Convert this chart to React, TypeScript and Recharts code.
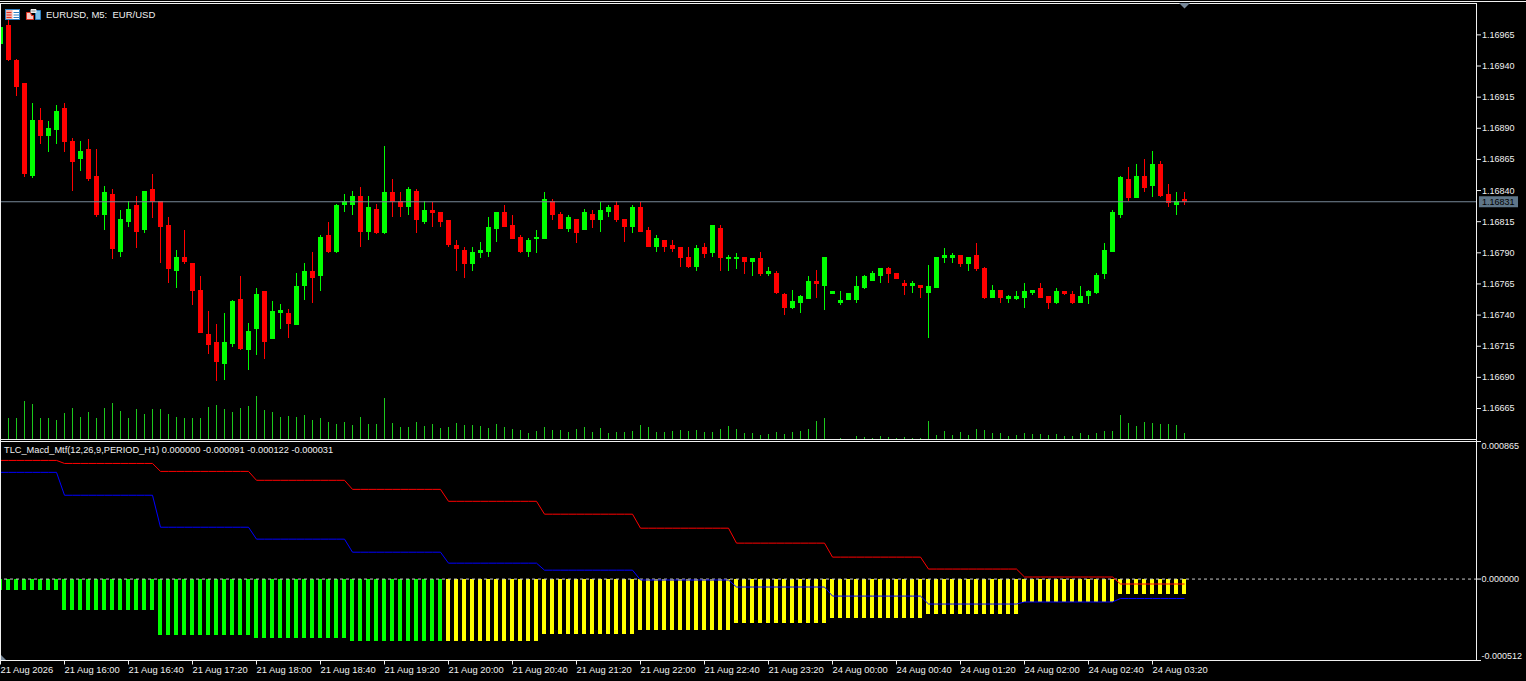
import { Bar, Cell, ComposedChart, Line, ReferenceLine, XAxis, YAxis } from 'recharts';

// M5 candles, prices given as points above 1.16000
const opens = [
  958, 973, 945, 926, 852, 897, 884, 889, 906, 880, 865, 873, 852, 820, 837, 791, 815, 828, 808, 841,
  832, 812, 775, 787, 782, 760, 725, 718, 701, 717, 753, 712, 729, 759, 721, 742, 742, 732, 763, 775,
  771, 804, 791, 828, 828, 836, 807, 825, 806, 839, 832, 827, 840, 815, 824, 823, 816, 796, 792, 781,
  790, 791, 809, 823, 812, 803, 791, 801, 801, 832, 821, 809, 817, 808, 821, 816, 823, 828, 817, 811,
  827, 808, 795, 800, 796, 795, 787, 779, 795, 790, 810, 785, 785, 787, 783, 786, 773, 774, 757, 746,
  750, 753, 767, 763, 757, 750, 752, 752, 762, 767, 771, 778, 774, 766, 763, 764, 758, 762, 786, 786,
  788, 781, 788, 778, 754, 760, 753, 753, 754, 758, 762, 755, 750, 759, 757, 750, 755, 758, 773, 791,
  820, 849, 834, 852, 844, 861, 837, 828, 833,
];
const highs = [
  974, 977, 946, 926, 910, 906, 896, 909, 910, 882, 880, 881, 873, 844, 841, 824, 832, 836, 840, 853,
  832, 819, 792, 808, 782, 771, 743, 733, 742, 752, 771, 734, 762, 759, 751, 749, 745, 774, 782, 791,
  804, 815, 829, 837, 840, 843, 836, 829, 876, 849, 839, 843, 841, 832, 831, 823, 816, 800, 795, 795,
  799, 819, 823, 828, 820, 804, 802, 808, 839, 833, 823, 820, 817, 825, 824, 831, 828, 832, 817, 828,
  831, 811, 804, 800, 800, 795, 795, 796, 798, 812, 812, 788, 790, 787, 786, 791, 779, 775, 758, 760,
  756, 771, 776, 787, 759, 759, 758, 771, 772, 775, 778, 779, 774, 768, 767, 764, 780, 787, 794, 790,
  788, 787, 798, 779, 764, 760, 756, 759, 766, 760, 766, 755, 762, 759, 759, 763, 760, 774, 798, 824,
  852, 859, 861, 865, 872, 864, 845, 839, 839,
];
const lows = [
  958, 944, 916, 851, 850, 877, 871, 877, 871, 840, 856, 848, 819, 808, 785, 787, 811, 794, 806, 818,
  782, 766, 762, 781, 748, 726, 709, 687, 688, 714, 712, 696, 708, 705, 721, 729, 722, 732, 752, 750,
  759, 790, 790, 823, 820, 795, 800, 805, 805, 819, 819, 820, 806, 813, 811, 811, 795, 775, 770, 775,
  786, 787, 799, 811, 801, 790, 787, 790, 801, 816, 809, 807, 798, 808, 810, 807, 819, 815, 799, 806,
  807, 795, 791, 791, 791, 779, 778, 775, 786, 787, 775, 775, 777, 773, 771, 771, 771, 757, 740, 745,
  742, 753, 754, 744, 757, 748, 752, 750, 761, 767, 766, 766, 769, 756, 758, 754, 722, 762, 782, 782,
  779, 775, 775, 753, 754, 750, 750, 752, 746, 756, 754, 745, 749, 756, 749, 750, 749, 757, 769, 791,
  818, 832, 834, 839, 835, 835, 827, 820, 828,
];
const closes = [
  971, 945, 923, 853, 897, 884, 890, 904, 879, 863, 872, 849, 820, 839, 793, 817, 825, 807, 840, 831,
  811, 777, 787, 783, 759, 726, 716, 702, 718, 751, 713, 727, 757, 718, 743, 744, 733, 763, 775, 770,
  803, 791, 828, 832, 836, 807, 827, 806, 839, 831, 827, 841, 816, 824, 822, 815, 796, 793, 781, 791,
  792, 811, 823, 811, 801, 791, 800, 803, 833, 820, 809, 819, 806, 823, 816, 824, 827, 816, 811, 827,
  807, 795, 802, 795, 793, 786, 779, 794, 789, 812, 786, 787, 787, 783, 786, 773, 775, 758, 746, 751,
  755, 767, 765, 787, 759, 752, 758, 763, 771, 774, 778, 773, 769, 763, 766, 762, 763, 787, 788, 788,
  781, 787, 777, 754, 760, 754, 755, 755, 759, 760, 754, 750, 759, 757, 750, 755, 759, 772, 792, 823,
  851, 834, 852, 842, 861, 836, 830, 832, 831,
];

const volumes = [
  105, 105, 105, 190, 175, 105, 105, 95, 130, 155, 110, 135, 105, 155, 180, 140, 105, 150, 125, 150,
  150, 125, 110, 105, 105, 105, 160, 170, 150, 135, 155, 165, 215, 145, 135, 110, 115, 110, 120, 95,
  105, 85, 75, 85, 70, 110, 75, 75, 205, 80, 60, 60, 85, 65, 75, 55, 60, 80, 70, 70,
  65, 55, 75, 60, 50, 45, 30, 40, 60, 45, 45, 35, 50, 60, 35, 55, 30, 35, 35, 40,
  70, 60, 35, 35, 40, 45, 40, 45, 35, 35, 50, 65, 50, 30, 30, 20, 25, 35, 25, 35,
  40, 50, 90, 105, 0, 5, 0, 15, 10, 5, 15, 10, 5, 10, 5, 5, 90, 20, 40, 20,
  35, 20, 50, 45, 30, 30, 15, 20, 30, 25, 25, 20, 25, 15, 15, 30, 20, 30, 40, 40,
  120, 80, 65, 85, 80, 75, 75, 70, 30,
];

const priceTicks = [
  1.16965, 1.1694, 1.16915, 1.1689, 1.16865, 1.1684, 1.16815, 1.1679, 1.16765, 1.1674, 1.16715, 1.1669, 1.16665,
];
const lastPrice = 1.16831;

// H1 indicator values, millionths. Each one holds for the bars listed in hourBars.
const hourBars = [8, 12, 12, 12, 12, 12, 12, 12, 12, 12, 12, 12, 9];
const hourHist = [-67, -192, -349, -368, -387, -387, -343, -318, -274, -243, -218, -145, -91];
const hourMacd = [671, 527, 326, 251, 169, 100, 56, -6, -50, -107, -157, -144, -122];
const hourSignal = [746, 727, 677, 621, 564, 489, 408, 320, 226, 138, 63, 13, -31];
const histColors = ['#00ff00', '#00ff00', '#00ff00', '#00ff00', '#00ff00', '#ffff00', '#ffff00', '#ffff00', '#ffff00', '#ffff00', '#ffff00', '#ffff00', '#ffff00'];

const timeTicks = [0, 8, 16, 24, 32, 40, 48, 56, 64, 72, 80, 88, 96, 104, 112, 120, 128, 136, 144];
const timeLabels = [
  '21 Aug 2026', '21 Aug 16:00', '21 Aug 16:40', '21 Aug 17:20', '21 Aug 18:00', '21 Aug 18:40', '21 Aug 19:20',
  '21 Aug 20:00', '21 Aug 20:40', '21 Aug 21:20', '21 Aug 22:00', '21 Aug 22:40', '21 Aug 23:20', '24 Aug 00:00',
  '24 Aug 00:40', '24 Aug 01:20', '24 Aug 02:00', '24 Aug 02:40', '24 Aug 03:20',
];

const candles = opens.map((o, i) => ({
  i,
  wick: [1.16 + lows[i] / 1e5, 1.16 + highs[i] / 1e5],
  body: [1.16 + Math.min(o, closes[i]) / 1e5, 1.16 + Math.max(o, closes[i]) / 1e5],
  up: closes[i] > o,
  volume: volumes[i],
}));

const macdRows = hourBars.flatMap((count, h) =>
  Array.from({ length: count }, () => ({
    hist: hourHist[h] / 1e6,
    macd: hourMacd[h] / 1e6,
    signal: hourSignal[h] / 1e6,
    color: histColors[h],
  })),
).map((row, i) => ({ ...row, i }));

const FONT = '"Liberation Sans", Arial, sans-serif';
const TEXT = '#f0f0f0';
const X_DOMAIN: [number, number] = [0, 184.5];
// small offsets so the thin bars land on whole pixels
const X_DOMAIN_CANDLE: [number, number] = [0, 184.5625];
const X_DOMAIN_HIST: [number, number] = [0.125, 184.625];
const X_DOMAIN_STEPS: [number, number] = [0.0625, 184.5625];

function PriceTick({ x, y, payload }: any) {
  if (payload.value === lastPrice) {
    return (
      <g>
        <rect x={x + 2} y={y - 5.5} width={39} height={11} fill="#5f7689" />
        <text x={x + 5} y={y + 3} fill="#000" fontSize={9} fontFamily={FONT}>{payload.value.toFixed(5)}</text>
      </g>
    );
  }
  return (
    <g>
      <line x1={x} x2={x + 4} y1={y} y2={y} stroke={TEXT} />
      <text x={x + 5} y={y + 3} fill={TEXT} fontSize={9} fontFamily={FONT}>{payload.value.toFixed(5)}</text>
    </g>
  );
}

function MacdTick({ x, y, payload, index }: any) {
  const dy = index === 0 ? -5 : index === 2 ? 4.5 : 0;
  return (
    <g>
      <line x1={x} x2={x + 4} y1={y} y2={y} stroke={TEXT} />
      <text x={x + 4.5} y={y + 3 + dy} fill={TEXT} fontSize={9} fontFamily={FONT}>{payload.value.toFixed(6)}</text>
    </g>
  );
}

function TimeTick({ x, y, index }: any) {
  return (
    <g>
      <line x1={x - 0.5} x2={x - 0.5} y1={y} y2={y + 4} stroke={TEXT} />
      <text x={x - 0.5} y={y + 12} fill={TEXT} fontSize={9.4} fontFamily={FONT}>{timeLabels[index]}</text>
    </g>
  );
}

function ChartIcons() {
  return (
    <svg width={44} height={14} style={{ position: 'absolute', left: 4, top: 8 }}>
      <rect x={1.5} y={1.5} width={14} height={10} fill="#fff" stroke="#2f7fc0" />
      <rect x={2} y={2} width={6.5} height={9} fill="#f3b4ab" />
      <path d="M2.5 4.5h5M2.5 7h5M2.5 9.5h5" stroke="#e03020" />
      <path d="M9.5 4.5h5.5M9.5 7h5.5M9.5 9.5h5.5" stroke="#2f7fc0" />
      <path d="M22.5 4.5h4l1 3h2v4h-7z" fill="#f7c9c2" stroke="#e03020" />
      <path d="M31.5 2.5h5v9h-5z" fill="#7fc0ea" stroke="#2f7fc0" />
      <path d="M27 1.5h5v3h-5z" fill="#bbb" stroke="#eee" />
    </svg>
  );
}

function Rule({ left, top, width, height }: { left: number; top: number; width: number; height: number }) {
  return <div style={{ position: 'absolute', left, top, width, height, background: TEXT }} />;
}

export default function App() {
  return (
    <div style={{ position: 'absolute', left: 0, top: 0, width: 1526, height: 681, background: '#000', overflow: 'hidden' }}>
      <div style={{ position: 'absolute', left: 0, top: 0 }}>
        <ComposedChart width={1526} height={441} data={candles} margin={{ top: 4, right: 0, bottom: 2, left: 1 }}>
          <XAxis xAxisId="wick" dataKey="i" type="number" domain={X_DOMAIN_CANDLE} hide />
          <XAxis xAxisId="body" dataKey="i" type="number" domain={X_DOMAIN_CANDLE} hide />
          <XAxis xAxisId="vol" dataKey="i" type="number" domain={X_DOMAIN_CANDLE} hide />
          <YAxis
            yAxisId="price"
            orientation="right"
            width={49}
            domain={[1.166405, 1.1698979]}
            allowDataOverflow
            ticks={[...priceTicks, lastPrice]}
            interval={0}
            axisLine={false}
            tickLine={false}
            tickSize={0}
            tickMargin={0}
            tick={PriceTick}
          />
          <YAxis yAxisId="volume" hide domain={[0, 2175]} />
          <ReferenceLine yAxisId="price" xAxisId="wick" y={lastPrice} stroke="#778899" />
          <Bar xAxisId="vol" yAxisId="volume" dataKey="volume" barSize={1} fill="#1cc81c" shapeRendering="crispEdges" isAnimationActive={false} />
          <Bar xAxisId="wick" yAxisId="price" dataKey="wick" barSize={1} shapeRendering="crispEdges" isAnimationActive={false}>
            {candles.map((c) => <Cell key={c.i} fill={c.up ? '#00ff00' : '#ff0000'} />)}
          </Bar>
          <Bar xAxisId="body" yAxisId="price" dataKey="body" barSize={5} shapeRendering="crispEdges" isAnimationActive={false}>
            {candles.map((c) => <Cell key={c.i} fill={c.up ? '#00ff00' : '#ff0000'} />)}
          </Bar>
        </ComposedChart>
      </div>

      <div style={{ position: 'absolute', left: 0, top: 0 }}>
        <ComposedChart width={1526} height={681} data={macdRows} margin={{ top: 441.5, right: 0, bottom: 0.5, left: 1 }}>
          <XAxis
            dataKey="i"
            type="number"
            domain={X_DOMAIN}
            ticks={timeTicks}
            interval={0}
            height={20}
            axisLine={{ stroke: TEXT }}
            tickLine={false}
            tickSize={0}
            tickMargin={0}
            tick={TimeTick}
          />
          <XAxis xAxisId="hist" dataKey="i" type="number" domain={X_DOMAIN_HIST} allowDataOverflow hide />
          <XAxis xAxisId="steps" dataKey="i" type="number" domain={X_DOMAIN_STEPS} allowDataOverflow hide />
          <YAxis
            orientation="right"
            width={49}
            domain={[-0.000512, 0.000865]}
            allowDataOverflow
            ticks={[-0.000512, 0, 0.000865]}
            interval={0}
            axisLine={false}
            tickLine={false}
            tickSize={0}
            tickMargin={0}
            tick={MacdTick}
          />
          <Bar xAxisId="hist" dataKey="hist" barSize={4} shapeRendering="crispEdges" isAnimationActive={false}>
            {macdRows.map((r) => <Cell key={r.i} fill={r.color} />)}
          </Bar>
          <ReferenceLine y={0} stroke="#c8c8c8" strokeDasharray="3 3" />
          <Line xAxisId="steps" dataKey="signal" stroke="#ff0000" strokeWidth={1} dot={false} isAnimationActive={false} />
          <Line xAxisId="steps" dataKey="macd" stroke="#0000ff" strokeWidth={1} dot={false} isAnimationActive={false} />
        </ComposedChart>
      </div>

      <Rule left={0} top={1} width={1526} height={1} />
      <Rule left={0} top={3} width={1477} height={1} />
      <Rule left={0} top={3} width={1} height={658} />
      <Rule left={0} top={439} width={1477} height={1} />
      <Rule left={0} top={441} width={1477} height={1} />
      <Rule left={1476} top={3} width={1} height={658} />

      <ChartIcons />
      <div style={{ position: 'absolute', left: 46, top: 9, color: TEXT, font: `9.5px ${FONT}`, whiteSpace: 'pre' }}>EURUSD, M5:  EUR/USD</div>
      <div style={{ position: 'absolute', left: 4, top: 445, color: TEXT, font: `9.25px ${FONT}`, whiteSpace: 'pre' }}>
        TLC_Macd_Mtf(12,26,9,PERIOD_H1) 0.000000 -0.000091 -0.000122 -0.000031
      </div>
      <svg width={12} height={6} style={{ position: 'absolute', left: 1179, top: 3 }}>
        <path d="M0 0h11l-5.5 5.5z" fill="#778899" />
      </svg>
      <svg width={6} height={6} style={{ position: 'absolute', left: 1, top: 655 }}>
        <path d="M0 0l5 5h-5z" fill="#778899" />
      </svg>
    </div>
  );
}
